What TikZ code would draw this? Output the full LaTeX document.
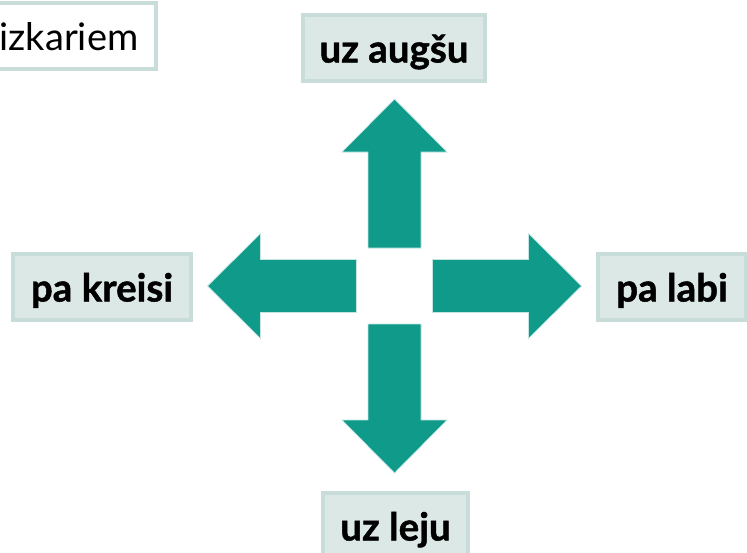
\documentclass[tikz,border=0pt]{standalone}
\usepackage{fontspec}
\setmainfont{Lato}[BoldFeatures={FakeBold=1.2}]
\definecolor{boxline}{RGB}{200,221,217}
\definecolor{boxfill}{RGB}{220,232,230}
\definecolor{arrowteal}{RGB}{15,154,138}
\tikzset{
  labelbox/.style={draw=boxline, fill=boxfill, line width=4pt, inner sep=0pt,
    minimum height=66pt, font=\fontsize{38.5}{40}\selectfont\bfseries,
    text height=34pt, text depth=5pt},
  plainbox/.style={labelbox, fill=white, font=\fontsize{38}{40}\selectfont},
  bigarrow/.style={fill=arrowteal, draw=white!75!arrowteal, line width=0.7pt}
}
\begin{document}
\begin{tikzpicture}[x=1pt, y=-1pt]
  \useasboundingbox (0,0) rectangle (747,552);

  % centre of the cross of arrows
  \coordinate (c) at (394.5,286);

  % label boxes
  \node[plainbox, minimum width=174pt] (hint) at (69,36) {izkariem};
  \node[labelbox, minimum width=182pt] (up) at (394,48) {uz augšu};
  \node[labelbox, minimum width=178pt] (left) at (102,287) {pa kreisi};
  \node[labelbox, minimum width=148pt] (right) at (672,287) {pa labi};
  \node[labelbox, minimum width=145pt] (down) at (395.5,526) {uz leju};

  % four block arrows pointing away from the centre
  \foreach \ang in {0,90,180,270}{
    \draw[bigarrow, shift={(c)}, rotate=\ang]
      (38,26.5) -- (134,26.5) -- (134,52.5) -- (187,0)
      -- (134,-52.5) -- (134,-26.5) -- (38,-26.5) -- cycle;
  }
\end{tikzpicture}
\end{document}
